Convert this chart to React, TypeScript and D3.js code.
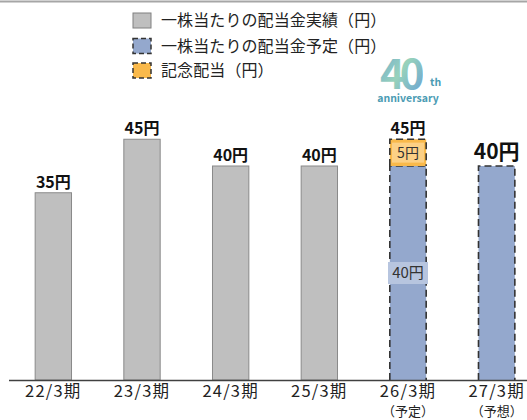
import React from 'react';
import * as d3 from 'd3';

const categories = ['22/3期', '23/3期', '24/3期', '25/3期', '26/3期', '27/3期'];
const subLabels = ['', '', '', '', '（予定）', '（予想）'];
const regularDividend = [35, 45, 40, 40, 40, 40];
const commemorativeDividend = [0, 0, 0, 0, 5, 0];
const isPlanned = [false, false, false, false, true, true];
const legendLabels = ['一株当たりの配当金実績（円）', '一株当たりの配当金予定（円）', '記念配当（円）'];

const W = 527;
const H = 420;
const FONT = '"Noto Sans CJK JP", "Noto Sans", sans-serif';
const GRAY = '#bfbfbf';
const BLUE = '#94a8cd';
const ORANGE = '#f9b94b';

export default function App() {
  const x = d3.scaleBand<string>().domain(categories).range([9, 541]).paddingInner(0.59).paddingOuter(0.295);
  const y = d3.scaleLinear().domain([0, 50]).range([380, 112.5]);
  const bw = x.bandwidth();

  return (
    <svg width={W} height={H} style={{ position: 'absolute', left: 0, top: 0, background: '#fff' }} fontFamily={FONT}>
      <defs>
        <linearGradient id="logoGrad" x1="0" y1="0" x2="1" y2="1">
          <stop offset="0" stopColor="#4f92cf" />
          <stop offset="0.5" stopColor="#86cbb0" />
          <stop offset="1" stopColor="#4a8cd0" />
        </linearGradient>
      </defs>
      <line x1={0} x2={W} y1={1.5} y2={1.5} stroke="#a6a6a6" strokeWidth={2} />

      {/* legend */}
      {legendLabels.map((label, i) => {
        const ty = [13, 38.5, 63][i];
        const fill = [GRAY, BLUE, ORANGE][i];
        return (
          <g key={label}>
            <rect x={133} y={ty} width={18} height={15} fill={fill}
              stroke={i === 0 ? '#808080' : '#333'} strokeWidth={i === 0 ? 1 : 1.5}
              strokeDasharray={i === 0 ? undefined : '5 3'} />
            <text x={161} y={ty + 7.5} dy="0.36em" fontSize={16} letterSpacing={0.1} fill="#222">{label}</text>
          </g>
        );
      })}

      {/* 40th anniversary mark */}
      <g>
        <text x={380} y={89} fontSize={42} fontWeight={700} fill="url(#logoGrad)" letterSpacing={-5} opacity={0.85}>40</text>
        <text x={430} y={86} fontSize={10.5} fontWeight={700} fill="#4a9bb3">th</text>
        <text x={408} y={102} fontSize={10.5} fontWeight={700} fill="#4a9bb3" textAnchor="middle">anniversary</text>
      </g>

      {/* bars */}
      {categories.map((c, i) => {
        const x0 = x(c)!;
        const base = regularDividend[i];
        const extra = commemorativeDividend[i];
        const total = base + extra;
        const planned = isPlanned[i];
        const yTop = y(base);
        const cx = x0 + bw / 2;
        return (
          <g key={c}>
            {planned ? (
              <>
                <rect x={x0} y={yTop} width={bw} height={y(0) - yTop} fill={BLUE} />
                <path d={`M${x0},${y(0)}V${yTop}H${x0 + bw}V${y(0)}`} fill="none" stroke="#333" strokeWidth={1.6} strokeDasharray="7 4" />
              </>
            ) : (
              <rect x={x0} y={yTop} width={bw} height={y(0) - yTop} fill={GRAY} stroke="#8a8a8a" strokeWidth={1} />
            )}
            {extra > 0 && (
              <>
                <rect x={x0} y={y(total)} width={bw} height={yTop - y(total)} fill={ORANGE} />
                <path d={`M${x0},${yTop}V${y(total)}H${x0 + bw}V${yTop}`} fill="none" stroke="#333" strokeWidth={1.6} strokeDasharray="7 4" />
                <rect x={cx - 16} y={(yTop + y(total)) / 2 - 10} width={32} height={20} fill="#fcd085" />
                <text x={cx} y={(yTop + y(total)) / 2} dy="0.36em" textAnchor="middle" fontSize={14} fill="#333">{`${extra}円`}</text>
                <rect x={cx - 20} y={273 - 11} width={40} height={22} fill="#b7c5df" />
                <text x={cx} y={273} dy="0.36em" textAnchor="middle" fontSize={15} fill="#333">{`${base}円`}</text>
              </>
            )}
            <text x={cx} y={y(total) - (i === 5 ? 7 : 5)} textAnchor="middle"
              fontSize={i === 5 ? 21 : 16} fontWeight={700} fill="#111">{`${total}円`}</text>
            <text x={cx} y={391} dy="0.36em" textAnchor="middle" fontSize={16.5} letterSpacing={1.2} fill="#222">{c}</text>
            {subLabels[i] && (
              <text x={cx} y={411.5} dy="0.36em" textAnchor="middle" fontSize={13} fill="#222">{subLabels[i]}</text>
            )}
          </g>
        );
      })}

      <line x1={9} x2={W} y1={380.5} y2={380.5} stroke="#404040" strokeWidth={1.3} />
    </svg>
  );
}
